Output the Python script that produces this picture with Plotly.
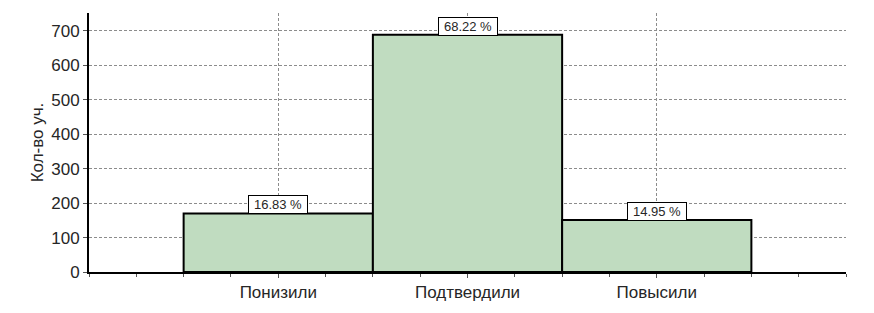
import plotly.graph_objects as go

categories = ["Понизили", "Подтвердили", "Повысили"]
positions = [1, 2, 3]
counts = [170, 689, 151]
percent_labels = ["16.83 %", "68.22 %", "14.95 %"]
y_ticks = [0, 100, 200, 300, 400, 500, 600, 700]

FONT = "Liberation Sans, Arial, sans-serif"
TXT = "#262626"

fig = go.Figure()
fig.add_trace(go.Bar(
    x=positions, y=counts, width=1,
    marker=dict(color="#c0dcc0", line=dict(color="black", width=2)),
    hoverinfo="skip",
))

for xp, v, t in zip(positions, counts, percent_labels):
    fig.add_annotation(
        x=xp, y=v, text=t, showarrow=False, yanchor="bottom", xanchor="center",
        bgcolor="white", bordercolor="black", borderwidth=1, borderpad=0,
        width=58, height=17,
        font=dict(family=FONT, size=13, color=TXT), yshift=-1,
    )

fig.update_layout(
    width=874, height=313,
    margin=dict(l=89, r=28, t=13, b=41),
    plot_bgcolor="white", paper_bgcolor="white",
    showlegend=False,
    font=dict(family=FONT, color=TXT),
)
fig.update_xaxes(
    range=[0, 4], tickvals=positions, ticktext=categories,
    tickfont=dict(size=17, color=TXT),
    showgrid=True, gridcolor="#8c8c8c", griddash="3px,2px", gridwidth=1,
    showline=True, linecolor="black", linewidth=2,
    ticks="outside", ticklen=4, tickcolor="#555",
    minor=dict(dtick=0.25, tick0=0, ticks="outside", ticklen=3, tickcolor="#555", showgrid=False),
    zeroline=False,
)
fig.update_yaxes(
    range=[0, 752], tickvals=y_ticks,
    tickfont=dict(size=17, color=TXT),
    title=dict(text="Кол-во уч.", font=dict(size=17, color=TXT), standoff=3),
    showgrid=True, gridcolor="#8c8c8c", griddash="3px,2px", gridwidth=1,
    showline=True, linecolor="black", linewidth=2,
    ticks="outside", ticklen=4, tickcolor="#555",
    zeroline=False,
)

fig.write_html("out.html")
